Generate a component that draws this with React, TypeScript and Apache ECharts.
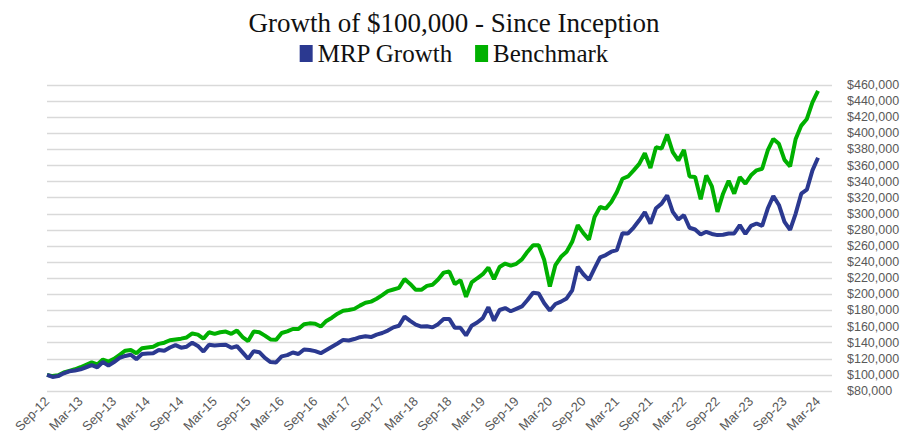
import React, { useEffect, useRef } from "react";
import * as echarts from "echarts";

const monthNames = ["Jan", "Feb", "Mar", "Apr", "May", "Jun", "Jul", "Aug", "Sep", "Oct", "Nov", "Dec"];
// Months from Sep-12 to Mar-24 (139 months)
const startYear = 2012;
const startMonth = 8; // Sep
const monthLabels: string[] = [];
for (let k = 0; k < 139; k++) {
  const m = (startMonth + k) % 12;
  const y = startYear + Math.floor((startMonth + k) / 12);
  monthLabels.push(`${monthNames[m]}-${String(y).slice(2)}`);
}

const mrpGrowth = [
  100, 97.5, 98.5, 102, 104.5, 105.5, 107, 109.5, 112, 109.5,
  116, 111.5, 116, 121, 123.5, 125, 119.5, 126, 126.5, 127,
  131, 130, 134, 137, 133.8, 135, 140, 136, 129, 137.5,
  136.5, 137, 137.3, 133.6, 135.7, 128, 120, 129.5, 128.2, 121,
  116, 115.5, 123, 124.5, 127.8, 126, 131.5, 131, 129.5, 127,
  131, 135, 139, 143.5, 142.7, 144.5, 146.8, 148, 147, 150,
  152, 155, 159, 161, 172.4, 167, 162.5, 160, 160.4, 159,
  163, 169.5, 169.5, 158.4, 158.4, 149, 161, 165, 170.5, 184,
  167.4, 180.6, 183, 179, 182, 185, 193, 202, 201, 189,
  180, 188, 191, 195, 205, 234.4, 225, 218, 232.3, 246,
  248.8, 253, 255, 276, 275.6, 283, 292, 302, 288, 307,
  312.7, 323, 302.4, 293, 298.3, 282.7, 280.6, 274.4, 277.7, 275,
  273.6, 274, 275.5, 275.7, 286, 275, 285, 288, 285, 306.6,
  322.2, 311, 290, 280, 300.4, 325, 330, 354, 369.6,
].map((v) => v * 1000);

const benchmark = [
  100, 98.5, 99.5, 103, 105, 107, 109.5, 112.5, 115.5, 113,
  119, 116.5, 120, 125, 130, 131, 127, 133, 134, 135,
  138.5, 140, 143, 144, 145, 146.5, 151.5, 150, 145, 153,
  151, 153, 153.8, 151, 155, 147, 142, 153.8, 153, 148.8,
  144, 143.5, 152, 154, 157, 157, 163, 164, 163.5, 160,
  167, 171, 176, 179.7, 180.5, 182, 186, 189.5, 191, 194.5,
  199, 204, 206, 208, 219, 213, 205.7, 205.7, 210.5, 212,
  218.5, 227, 228.4, 212.7, 217.7, 197, 214.8, 220, 225, 233.3,
  219, 234, 238.3, 235.6, 238, 243.4, 253, 261, 261, 242.6,
  209.7, 236.4, 246.7, 253, 265.3, 285.9, 276, 268, 296.2, 308.5,
  306.5, 314.7, 327, 343.6, 346.4, 354, 362, 375.3, 357, 382.7,
  381, 398.4, 376.6, 366.3, 379.5, 346.5, 345.7, 318, 347.8, 334,
  302.4, 325, 341, 325, 345.7, 337.5, 347.8, 354, 356, 378.7,
  393, 387, 367, 359, 393, 409.6, 417.8, 438.4, 452.8,
].map((v) => v * 1000);

const seriesNames = ["MRP Growth", "Benchmark"];
const titleText = "Growth of $100,000 - Since Inception";

export default function App() {
  const ref = useRef<HTMLDivElement>(null);
  useEffect(() => {
    document.body.style.margin = "0";
    if (!ref.current) return;
    const chart = echarts.init(ref.current, undefined, { renderer: "svg" });
    const serif = "'Liberation Serif', 'DejaVu Serif', serif";
    chart.setOption({
      animation: false,
      backgroundColor: "#ffffff",
      title: {
        text: titleText,
        left: "center",
        top: 4,
        textStyle: { fontFamily: serif, fontSize: 27, fontWeight: "normal", color: "#111" },
      },
      legend: {
        top: 36,
        left: "center",
        icon: "rect",
        itemWidth: 13,
        itemHeight: 17,
        itemGap: 22,
        data: seriesNames,
        textStyle: { fontFamily: serif, fontSize: 25, color: "#111" },
      },
      grid: { left: 47, right: 76, top: 85, bottom: 55 },
      xAxis: {
        type: "value",
        min: 0,
        max: 140.5,
        interval: 6,
        axisLine: { show: false },
        axisTick: { show: false },
        splitLine: { show: false },
        axisLabel: {
          rotate: 45,
          fontSize: 13,
          color: "#595959",
          fontFamily: "'Liberation Sans', sans-serif",
          margin: 8,
          showMaxLabel: false,
          formatter: (v: number) => {
            const i = Math.round(v);
            if (Math.abs(v - i) > 1e-6 || i % 6 !== 0 || i > 138) return "";
            return monthLabels[i];
          },
        },
      },
      yAxis: {
        type: "value",
        position: "right",
        min: 80000,
        max: 460000,
        interval: 20000,
        axisLine: { show: false },
        axisTick: { show: false },
        splitLine: { lineStyle: { color: "#d9d9d9", width: 1.3 } },
        axisLabel: {
          fontSize: 12.5,
          color: "#595959",
          fontFamily: "'Liberation Sans', sans-serif",
          margin: 15,
          formatter: (v: number) => "$" + v.toLocaleString("en-US"),
        },
      },
      series: [
        {
          name: seriesNames[0],
          type: "line",
          data: mrpGrowth.map((v, i) => [i, v]),
          showSymbol: false,
          lineStyle: { width: 4, color: "#2B3990" },
          itemStyle: { color: "#2B3990" },
          z: 3,
        },
        {
          name: seriesNames[1],
          type: "line",
          data: benchmark.map((v, i) => [i, v]),
          showSymbol: false,
          lineStyle: { width: 4, color: "#00B000" },
          itemStyle: { color: "#00B000" },
          z: 2,
        },
      ],
    });
    return () => chart.dispose();
  }, []);
  return <div ref={ref} style={{ width: 908, height: 446 }} />;
}
